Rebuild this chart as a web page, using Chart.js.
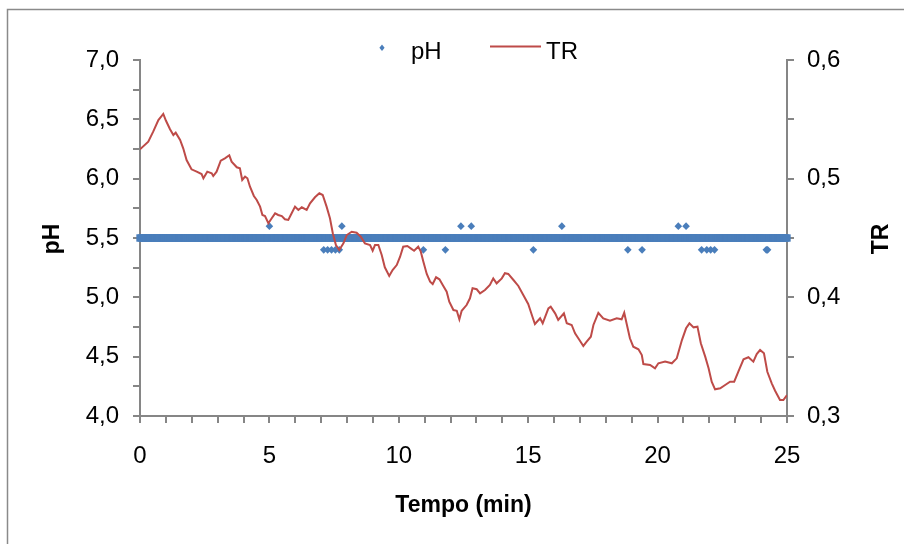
<!DOCTYPE html>
<html>
<head>
<meta charset="utf-8">
<script src="https://cdn.jsdelivr.net/npm/chart.js@4.4.1/dist/chart.umd.min.js"></script>
<style>
  html, body { margin: 0; padding: 0; background: #ffffff; }
  #wrap { width: 904px; height: 544px; }
</style>
</head>
<body>
<div id="wrap"><canvas id="c" width="904" height="544"></canvas></div>
<script>
// ---- Data ----
// TR line: time (min) and value
const trTime = [
  0.00, 0.32, 0.51, 0.71, 0.90, 1.00, 1.16, 1.29, 1.38, 1.55, 1.67, 1.80, 1.99, 2.19, 2.38, 2.45,
  2.60, 2.77, 2.83, 2.96, 3.12, 3.28, 3.45, 3.54, 3.74, 3.86, 3.95, 4.06, 4.15, 4.25, 4.40, 4.51,
  4.64, 4.73, 4.83, 4.96, 5.09, 5.22, 5.34, 5.48, 5.60, 5.73, 5.86, 5.99, 6.12, 6.25, 6.44, 6.57,
  6.76, 6.93, 7.06, 7.21, 7.34, 7.45, 7.57, 7.70, 7.86, 7.99, 8.18, 8.37, 8.53, 8.69, 8.89, 8.99,
  9.08, 9.21, 9.34, 9.46, 9.63, 9.76, 9.92, 10.05, 10.17, 10.33, 10.46, 10.59, 10.75, 10.85, 10.95,
  11.08, 11.21, 11.31, 11.44, 11.57, 11.72, 11.85, 11.95, 12.11, 12.24, 12.34, 12.43, 12.62, 12.75,
  12.85, 13.01, 13.14, 13.33, 13.52, 13.65, 13.78, 13.98, 14.10, 14.23, 14.43, 14.62, 14.81, 15.00,
  15.17, 15.26, 15.46, 15.56, 15.78, 15.87, 16.04, 16.16, 16.38, 16.49, 16.68, 16.81, 16.98, 17.13,
  17.26, 17.42, 17.52, 17.71, 17.90, 18.16, 18.42, 18.61, 18.71, 18.80, 18.93, 19.06, 19.26, 19.39,
  19.45, 19.71, 19.90, 20.03, 20.29, 20.55, 20.74, 20.94, 21.10, 21.23, 21.39, 21.54, 21.67, 21.84,
  21.97, 22.09, 22.22, 22.42, 22.61, 22.80, 22.96, 23.12, 23.32, 23.51, 23.70, 23.83, 23.96, 24.11,
  24.24, 24.41, 24.54, 24.73, 24.86, 25.00
];
const trValue = [
  0.5247, 0.5311, 0.5396, 0.5494, 0.5545, 0.5490, 0.5416, 0.5368, 0.5388, 0.5326, 0.5256, 0.5157, 0.5079, 0.5059, 0.5039, 0.5003,
  0.5059, 0.5045, 0.5022, 0.5059, 0.5151, 0.5171, 0.5197, 0.5143, 0.5096, 0.5087, 0.4989, 0.5017, 0.5003, 0.4932, 0.4854, 0.4820,
  0.4764, 0.4694, 0.4685, 0.4624, 0.4666, 0.4708, 0.4694, 0.4685, 0.4658, 0.4652, 0.4708, 0.4764, 0.4736, 0.4759, 0.4736, 0.4792,
  0.4843, 0.4877, 0.4862, 0.4764, 0.4666, 0.4540, 0.4441, 0.4399, 0.4455, 0.4525, 0.4553, 0.4545, 0.4511, 0.4455, 0.4441, 0.4393,
  0.4441, 0.4441, 0.4357, 0.4253, 0.4180, 0.4230, 0.4272, 0.4342, 0.4427, 0.4433, 0.4413, 0.4393, 0.4427, 0.4385, 0.4300,
  0.4197, 0.4132, 0.4112, 0.4169, 0.4152, 0.4096, 0.4048, 0.3963, 0.3893, 0.3887, 0.3815, 0.3887, 0.3935, 0.3992,
  0.4076, 0.4068, 0.4034, 0.4062, 0.4104, 0.4160, 0.4118, 0.4160, 0.4203, 0.4197, 0.4146, 0.4096, 0.4020, 0.3944,
  0.3832, 0.3775, 0.3823, 0.3781, 0.3907, 0.3921, 0.3865, 0.3809, 0.3865, 0.3781, 0.3767, 0.3697, 0.3640, 0.3590,
  0.3626, 0.3668, 0.3767, 0.3870, 0.3823, 0.3803, 0.3823, 0.3815, 0.3870, 0.3781, 0.3655, 0.3584, 0.3562, 0.3514,
  0.3438, 0.3430, 0.3402, 0.3444, 0.3458, 0.3444, 0.3486, 0.3640, 0.3739, 0.3781, 0.3747, 0.3753, 0.3613, 0.3500,
  0.3402, 0.3289, 0.3225, 0.3233, 0.3261, 0.3289, 0.3289, 0.3373, 0.3478, 0.3495, 0.3458, 0.3522, 0.3556, 0.3528,
  0.3373, 0.3275, 0.3213, 0.3135, 0.3135, 0.3177
];

// pH readings: time (min) and value
const phTime = [
  0.00, 0.05, 0.10, 0.15, 0.20, 0.25, 0.30, 0.35, 0.40, 0.45, 0.50, 0.55, 0.60, 0.65, 0.70, 0.75, 0.80, 0.85, 0.90, 0.95,
  1.00, 1.05, 1.10, 1.15, 1.20, 1.25, 1.30, 1.35, 1.40, 1.45, 1.50, 1.55, 1.60, 1.65, 1.70, 1.75, 1.80, 1.85, 1.90, 1.95,
  2.00, 2.05, 2.10, 2.15, 2.20, 2.25, 2.30, 2.35, 2.40, 2.45, 2.50, 2.55, 2.60, 2.65, 2.70, 2.75, 2.80, 2.85, 2.90, 2.95,
  3.00, 3.05, 3.10, 3.15, 3.20, 3.25, 3.30, 3.35, 3.40, 3.45, 3.50, 3.55, 3.60, 3.65, 3.70, 3.75, 3.80, 3.85, 3.90, 3.95,
  4.00, 4.05, 4.10, 4.15, 4.20, 4.25, 4.30, 4.35, 4.40, 4.45, 4.50, 4.55, 4.60, 4.65, 4.70, 4.75, 4.80, 4.85, 4.90, 4.95,
  5.00, 5.05, 5.10, 5.15, 5.20, 5.25, 5.30, 5.35, 5.40, 5.45, 5.50, 5.55, 5.60, 5.65, 5.70, 5.75, 5.80, 5.85, 5.90, 5.95,
  6.00, 6.05, 6.10, 6.15, 6.20, 6.25, 6.30, 6.35, 6.40, 6.45, 6.50, 6.55, 6.60, 6.65, 6.70, 6.75, 6.80, 6.85, 6.90, 6.95,
  7.00, 7.05, 7.10, 7.15, 7.20, 7.25, 7.30, 7.35, 7.40, 7.45, 7.50, 7.55, 7.60, 7.65, 7.70, 7.75, 7.80, 7.85, 7.90, 7.95,
  8.00, 8.05, 8.10, 8.15, 8.20, 8.25, 8.30, 8.35, 8.40, 8.45, 8.50, 8.55, 8.60, 8.65, 8.70, 8.75, 8.80, 8.85, 8.90, 8.95,
  9.00, 9.05, 9.10, 9.15, 9.20, 9.25, 9.30, 9.35, 9.40, 9.45, 9.50, 9.55, 9.60, 9.65, 9.70, 9.75, 9.80, 9.85, 9.90, 9.95,
  10.00, 10.05, 10.10, 10.15, 10.20, 10.25, 10.30, 10.35, 10.40, 10.45, 10.50, 10.55, 10.60, 10.65, 10.70, 10.75, 10.80, 10.85, 10.90, 10.95,
  11.00, 11.05, 11.10, 11.15, 11.20, 11.25, 11.30, 11.35, 11.40, 11.45, 11.50, 11.55, 11.60, 11.65, 11.70, 11.75, 11.80, 11.85, 11.90, 11.95,
  12.00, 12.05, 12.10, 12.15, 12.20, 12.25, 12.30, 12.35, 12.40, 12.45, 12.50, 12.55, 12.60, 12.65, 12.70, 12.75, 12.80, 12.85, 12.90, 12.95,
  13.00, 13.05, 13.10, 13.15, 13.20, 13.25, 13.30, 13.35, 13.40, 13.45, 13.50, 13.55, 13.60, 13.65, 13.70, 13.75, 13.80, 13.85, 13.90, 13.95,
  14.00, 14.05, 14.10, 14.15, 14.20, 14.25, 14.30, 14.35, 14.40, 14.45, 14.50, 14.55, 14.60, 14.65, 14.70, 14.75, 14.80, 14.85, 14.90, 14.95,
  15.00, 15.05, 15.10, 15.15, 15.20, 15.25, 15.30, 15.35, 15.40, 15.45, 15.50, 15.55, 15.60, 15.65, 15.70, 15.75, 15.80, 15.85, 15.90, 15.95,
  16.00, 16.05, 16.10, 16.15, 16.20, 16.25, 16.30, 16.35, 16.40, 16.45, 16.50, 16.55, 16.60, 16.65, 16.70, 16.75, 16.80, 16.85, 16.90, 16.95,
  17.00, 17.05, 17.10, 17.15, 17.20, 17.25, 17.30, 17.35, 17.40, 17.45, 17.50, 17.55, 17.60, 17.65, 17.70, 17.75, 17.80, 17.85, 17.90, 17.95,
  18.00, 18.05, 18.10, 18.15, 18.20, 18.25, 18.30, 18.35, 18.40, 18.45, 18.50, 18.55, 18.60, 18.65, 18.70, 18.75, 18.80, 18.85, 18.90, 18.95,
  19.00, 19.05, 19.10, 19.15, 19.20, 19.25, 19.30, 19.35, 19.40, 19.45, 19.50, 19.55, 19.60, 19.65, 19.70, 19.75, 19.80, 19.85, 19.90, 19.95,
  20.00, 20.05, 20.10, 20.15, 20.20, 20.25, 20.30, 20.35, 20.40, 20.45, 20.50, 20.55, 20.60, 20.65, 20.70, 20.75, 20.80, 20.85, 20.90, 20.95,
  21.00, 21.05, 21.10, 21.15, 21.20, 21.25, 21.30, 21.35, 21.40, 21.45, 21.50, 21.55, 21.60, 21.65, 21.70, 21.75, 21.80, 21.85, 21.90, 21.95,
  22.00, 22.05, 22.10, 22.15, 22.20, 22.25, 22.30, 22.35, 22.40, 22.45, 22.50, 22.55, 22.60, 22.65, 22.70, 22.75, 22.80, 22.85, 22.90, 22.95,
  23.00, 23.05, 23.10, 23.15, 23.20, 23.25, 23.30, 23.35, 23.40, 23.45, 23.50, 23.55, 23.60, 23.65, 23.70, 23.75, 23.80, 23.85, 23.90, 23.95,
  24.00, 24.05, 24.10, 24.15, 24.20, 24.25, 24.30, 24.35, 24.40, 24.45, 24.50, 24.55, 24.60, 24.65, 24.70, 24.75, 24.80, 24.85, 24.90, 24.95,
  25.00
];
const phValue = [
  5.5, 5.5, 5.5, 5.5, 5.5, 5.5, 5.5, 5.5, 5.5, 5.5, 5.5, 5.5, 5.5, 5.5, 5.5, 5.5, 5.5, 5.5, 5.5, 5.5,
  5.5, 5.5, 5.5, 5.5, 5.5, 5.5, 5.5, 5.5, 5.5, 5.5, 5.5, 5.5, 5.5, 5.5, 5.5, 5.5, 5.5, 5.5, 5.5, 5.5,
  5.5, 5.5, 5.5, 5.5, 5.5, 5.5, 5.5, 5.5, 5.5, 5.5, 5.5, 5.5, 5.5, 5.5, 5.5, 5.5, 5.5, 5.5, 5.5, 5.5,
  5.5, 5.5, 5.5, 5.5, 5.5, 5.5, 5.5, 5.5, 5.5, 5.5, 5.5, 5.5, 5.5, 5.5, 5.5, 5.5, 5.5, 5.5, 5.5, 5.5,
  5.5, 5.5, 5.5, 5.5, 5.5, 5.5, 5.5, 5.5, 5.5, 5.5, 5.5, 5.5, 5.5, 5.5, 5.5, 5.5, 5.5, 5.5, 5.5, 5.5,
  5.6, 5.5, 5.5, 5.5, 5.5, 5.5, 5.5, 5.5, 5.5, 5.5, 5.5, 5.5, 5.5, 5.5, 5.5, 5.5, 5.5, 5.5, 5.5, 5.5,
  5.5, 5.5, 5.5, 5.5, 5.5, 5.5, 5.5, 5.5, 5.5, 5.5, 5.5, 5.5, 5.5, 5.5, 5.5, 5.5, 5.5, 5.5, 5.5, 5.5,
  5.5, 5.5, 5.4, 5.5, 5.5, 5.4, 5.5, 5.5, 5.4, 5.5, 5.5, 5.4, 5.5, 5.5, 5.4, 5.5, 5.6, 5.5, 5.5, 5.5,
  5.5, 5.5, 5.5, 5.5, 5.5, 5.5, 5.5, 5.5, 5.5, 5.5, 5.5, 5.5, 5.5, 5.5, 5.5, 5.5, 5.5, 5.5, 5.5, 5.5,
  5.5, 5.5, 5.5, 5.5, 5.5, 5.5, 5.5, 5.5, 5.5, 5.5, 5.5, 5.5, 5.5, 5.5, 5.5, 5.5, 5.5, 5.5, 5.5, 5.5,
  5.5, 5.5, 5.5, 5.5, 5.5, 5.5, 5.5, 5.5, 5.5, 5.5, 5.5, 5.5, 5.5, 5.5, 5.5, 5.5, 5.5, 5.5, 5.5, 5.4,
  5.5, 5.5, 5.5, 5.5, 5.5, 5.5, 5.5, 5.5, 5.5, 5.5, 5.5, 5.5, 5.5, 5.5, 5.5, 5.5, 5.4, 5.5, 5.5, 5.5,
  5.5, 5.5, 5.5, 5.5, 5.5, 5.5, 5.5, 5.5, 5.6, 5.5, 5.5, 5.5, 5.5, 5.5, 5.5, 5.5, 5.6, 5.5, 5.5, 5.5,
  5.5, 5.5, 5.5, 5.5, 5.5, 5.5, 5.5, 5.5, 5.5, 5.5, 5.5, 5.5, 5.5, 5.5, 5.5, 5.5, 5.5, 5.5, 5.5, 5.5,
  5.5, 5.5, 5.5, 5.5, 5.5, 5.5, 5.5, 5.5, 5.5, 5.5, 5.5, 5.5, 5.5, 5.5, 5.5, 5.5, 5.5, 5.5, 5.5, 5.5,
  5.5, 5.5, 5.5, 5.5, 5.4, 5.5, 5.5, 5.5, 5.5, 5.5, 5.5, 5.5, 5.5, 5.5, 5.5, 5.5, 5.5, 5.5, 5.5, 5.5,
  5.5, 5.5, 5.5, 5.5, 5.5, 5.5, 5.6, 5.5, 5.5, 5.5, 5.5, 5.5, 5.5, 5.5, 5.5, 5.5, 5.5, 5.5, 5.5, 5.5,
  5.5, 5.5, 5.5, 5.5, 5.5, 5.5, 5.5, 5.5, 5.5, 5.5, 5.5, 5.5, 5.5, 5.5, 5.5, 5.5, 5.5, 5.5, 5.5, 5.5,
  5.5, 5.5, 5.5, 5.5, 5.5, 5.5, 5.5, 5.5, 5.5, 5.5, 5.5, 5.5, 5.5, 5.5, 5.5, 5.5, 5.5, 5.4, 5.5, 5.5,
  5.5, 5.5, 5.5, 5.5, 5.5, 5.5, 5.5, 5.5, 5.4, 5.5, 5.5, 5.5, 5.5, 5.5, 5.5, 5.5, 5.5, 5.5, 5.5, 5.5,
  5.5, 5.5, 5.5, 5.5, 5.5, 5.5, 5.5, 5.5, 5.5, 5.5, 5.5, 5.5, 5.5, 5.5, 5.5, 5.5, 5.6, 5.5, 5.5, 5.5,
  5.5, 5.5, 5.6, 5.5, 5.5, 5.5, 5.5, 5.5, 5.5, 5.5, 5.5, 5.5, 5.5, 5.5, 5.4, 5.5, 5.5, 5.5, 5.4, 5.5,
  5.5, 5.4, 5.5, 5.5, 5.4, 5.5, 5.5, 5.5, 5.5, 5.5, 5.5, 5.5, 5.5, 5.5, 5.5, 5.5, 5.5, 5.5, 5.5, 5.5,
  5.5, 5.5, 5.5, 5.5, 5.5, 5.5, 5.5, 5.5, 5.5, 5.5, 5.5, 5.5, 5.5, 5.5, 5.5, 5.5, 5.5, 5.5, 5.5, 5.5,
  5.5, 5.5, 5.5, 5.5, 5.4, 5.4, 5.5, 5.5, 5.5, 5.5, 5.5, 5.5, 5.5, 5.5, 5.5, 5.5, 5.5, 5.5, 5.5, 5.5,
  5.5
];

// Axis ranges and labels
const xRange = [0, 25];
const phRange = [4.0, 7.0];
const trRange = [0.3, 0.6];
const seriesNames = ['pH', 'TR'];
const axisTitles = { x: 'Tempo (min)', left: 'pH', right: 'TR' };

// ---- Styles ----
const FONT = '"Liberation Sans", Arial, Helvetica, sans-serif';
const BLUE = '#4A7EBB';
const RED = '#BE4B48';
const AXIS = '#868686';

const comma = (v, d) => v.toFixed(d).replace('.', ',');
// The 5.5 readings are so dense that their diamond markers merge into a flat bar;
// square markers of the same height reproduce that merged look without moire.
const inMainBand = c => c.raw && Math.abs(c.raw.y - 5.5) < 1e-9;

const framePlugin = {
  id: 'frame',
  beforeDraw(chart) {
    const ctx = chart.ctx;
    ctx.save();
    ctx.fillStyle = '#ffffff';
    ctx.fillRect(0, 0, chart.width, chart.height);
    ctx.strokeStyle = '#8a8a8a';
    ctx.lineWidth = 1.5;
    ctx.strokeRect(7.5, 9.5, chart.width + 10, chart.height + 10);
    ctx.restore();
  },
  afterDraw(chart) {
    const ctx = chart.ctx;
    const area = chart.chartArea;
    ctx.save();
    ctx.fillStyle = '#000000';
    // axis titles
    ctx.font = 'bold 23px ' + FONT;
    ctx.textAlign = 'center';
    ctx.textBaseline = 'alphabetic';
    ctx.fillText(axisTitles.x, (area.left + area.right) / 2, 511.5);
    const midY = (area.top + area.bottom) / 2 + 1;
    ctx.save();
    ctx.translate(59, midY);
    ctx.rotate(-Math.PI / 2);
    ctx.fillText(axisTitles.left, 0, 0);
    ctx.restore();
    ctx.save();
    ctx.translate(888, midY);
    ctx.rotate(-Math.PI / 2);
    ctx.fillText(axisTitles.right, 0, 0);
    ctx.restore();
    // legend
    ctx.font = '24px ' + FONT;
    ctx.textAlign = 'left';
    ctx.fillStyle = BLUE;
    ctx.beginPath();
    ctx.moveTo(382, 44.5); ctx.lineTo(384.6, 47.7); ctx.lineTo(382, 50.9); ctx.lineTo(379.4, 47.7);
    ctx.closePath();
    ctx.fill();
    ctx.fillStyle = '#000000';
    ctx.fillText(seriesNames[0], 411, 59);
    ctx.strokeStyle = RED;
    ctx.lineWidth = 2;
    ctx.beginPath();
    ctx.moveTo(490, 46.5); ctx.lineTo(541, 46.5);
    ctx.stroke();
    ctx.fillText(seriesNames[1], 546, 59);
    ctx.restore();
  }
};

const ctx = document.getElementById('c').getContext('2d');
new Chart(ctx, {
  type: 'scatter',
  data: {
    datasets: [
      {
        label: seriesNames[1],
        type: 'line',
        yAxisID: 'y2',
        data: trTime.map((t, i) => ({ x: t, y: trValue[i] })),
        borderColor: RED,
        borderWidth: 2,
        pointRadius: 0,
        tension: 0,
        fill: false,
        order: 0
      },
      {
        label: seriesNames[0],
        yAxisID: 'y',
        data: phTime.map((t, i) => ({ x: t, y: phValue[i] })),
        pointStyle: c => (inMainBand(c) ? 'rect' : 'rectRot'),
        pointRadius: c => (inMainBand(c) ? 5.2 : 3.8),
        pointBackgroundColor: BLUE,
        pointBorderWidth: 0,
        showLine: false,
        clip: false,
        order: 1
      }
    ]
  },
  options: {
    responsive: false,
    animation: false,
    devicePixelRatio: 1,
    layout: { padding: { top: 60, left: 0, right: 0, bottom: 0 } },
    plugins: {
      legend: { display: false },
      tooltip: { enabled: false }
    },
    scales: {
      x: {
        type: 'linear',
        position: 'bottom',
        min: xRange[0],
        max: xRange[1],
        afterFit: s => { s.height = 128; },
        border: { display: true, color: AXIS, width: 2 },
        grid: { drawOnChartArea: false, drawTicks: true, tickLength: 7, color: AXIS, lineWidth: 2 },
        ticks: {
          stepSize: 1,
          autoSkip: false,
          maxRotation: 0,
          padding: 19,
          color: '#000000',
          font: { family: FONT, size: 24 },
          callback: v => (Math.round(v) % 5 === 0 ? String(Math.round(v)) : '')
        }
      },
      y: {
        type: 'linear',
        position: 'left',
        min: phRange[0],
        max: phRange[1],
        afterFit: s => { s.width = 140; },
        border: { display: true, color: AXIS, width: 2 },
        grid: { drawOnChartArea: false, drawTicks: true, tickLength: 7, color: AXIS, lineWidth: 2 },
        ticks: {
          stepSize: 0.25,
          autoSkip: false,
          padding: 14,
          color: '#000000',
          font: { family: FONT, size: 24 },
          callback: v => (Math.abs(v * 2 - Math.round(v * 2)) < 1e-6 ? comma(v, 1) : '')
        }
      },
      y2: {
        type: 'linear',
        position: 'right',
        min: trRange[0],
        max: trRange[1],
        afterFit: s => { s.width = 117; },
        border: { display: true, color: AXIS, width: 2 },
        grid: { drawOnChartArea: false, drawTicks: true, tickLength: 7, color: AXIS, lineWidth: 2 },
        ticks: {
          stepSize: 0.05,
          autoSkip: false,
          padding: 13,
          color: '#000000',
          font: { family: FONT, size: 24 },
          callback: v => (Math.abs(v * 10 - Math.round(v * 10)) < 1e-6 ? comma(v, 1) : '')
        }
      }
    }
  },
  plugins: [framePlugin]
});
</script>
</body>
</html>
